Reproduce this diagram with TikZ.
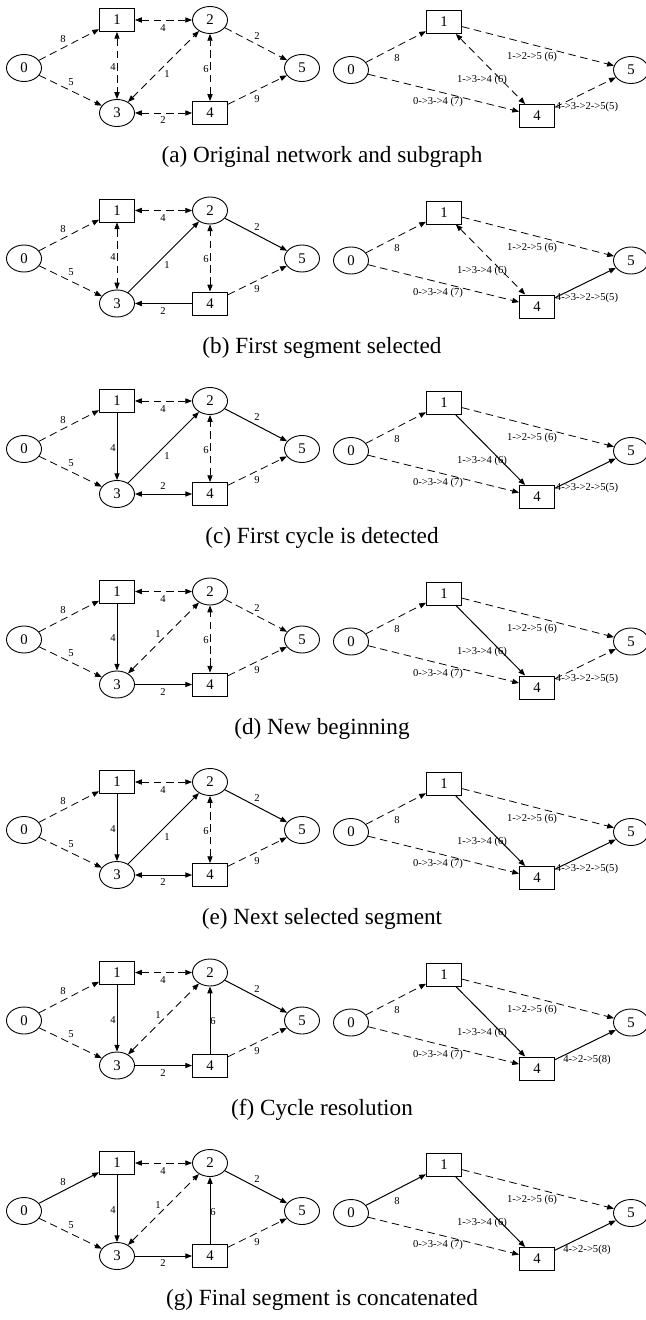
\documentclass[tikz,border=0pt]{standalone}
\usepackage{fontspec}
\setmainfont{Liberation Serif}
\usetikzlibrary{arrows.meta,shapes}

\tikzset{
  vtx/.style={draw,line width=.45pt,inner sep=0pt,minimum width=17.5pt,font=\fontsize{7.4}{8}\selectfont},
  vell/.style={vtx,ellipse,minimum height=13.5pt},
  vbox/.style={vtx,rectangle,minimum height=11.5pt},
  wt/.style={inner sep=0pt,font=\fontsize{5.3}{6}\selectfont},
  link/.style={line width=.4pt,>={Triangle[length=3.4pt,width=2.6pt]}},
  dfwd/.style={link,dash pattern=on 3.8pt off 2.3pt,->},
  dboth/.style={link,dash pattern=on 3.8pt off 2.3pt,<->},
  sfwd/.style={link,line width=.5pt,->},
  sback/.style={link,line width=.5pt,<-},
  sboth/.style={link,line width=.5pt,<->}
}

\begin{document}
\begin{tikzpicture}[x=.5pt,y=-.5pt]
\useasboundingbox (0,0) rectangle (645,1320);
\foreach \k/\cap/\ea/\eb/\ec/\ed/\ee/\ef/\rl/\onex/\oney/\twoy/\sixx in {
  0/(a) Original network and subgraph/dfwd/dboth/dboth/dboth/dfwd/dboth/4->3->2->5(5)/167/74/120/206,
  1/(b) First segment selected/dfwd/dboth/sfwd/dboth/sfwd/sback/4->3->2->5(5)/167/75/120/206,
  2/(c) First cycle is detected/dfwd/sfwd/sfwd/dboth/sfwd/sboth/4->3->2->5(5)/167/75/105/206,
  3/(d) New beginning/dfwd/sfwd/dboth/dboth/dfwd/sfwd/4->3->2->5(5)/158/62/120/206,
  4/(e) Next selected segment/dfwd/sfwd/sfwd/dboth/sfwd/sboth/4->3->2->5(5)/167/75/120/206,
  5/(f) Cycle resolution/dfwd/sfwd/dboth/sfwd/sfwd/sfwd/4->2->5(8)/158/62/120/213,
  6/(g) Final segment is concatenated/sfwd/sfwd/dboth/sfwd/sfwd/sfwd/4->2->5(8)/158/62/120/213}{
\begin{scope}[shift={(0,190.5*\k)}]
% network
\node[vell] (l0-\k) at (24,68) {0};
\node[vbox] (l1-\k) at (117,20) {1};
\node[vell] (l2-\k) at (210,20) {2};
\node[vell] (l3-\k) at (117,113) {3};
\node[vbox] (l4-\k) at (210,113) {4};
\node[vell] (l5-\k) at (302,68) {5};
\draw[\ea] (l0-\k) -- (l1-\k);
\draw[dfwd] (l0-\k) -- (l3-\k);
\draw[dboth] (l1-\k) -- (l2-\k);
\draw[\eb] (l1-\k) -- (l3-\k);
\draw[\ec] (l3-\k) -- (l2-\k);
\draw[\ed] (l4-\k) -- (l2-\k);
\draw[\ee] (l2-\k) -- (l5-\k);
\draw[\ef] (l3-\k) -- (l4-\k);
\draw[dfwd] (l4-\k) -- (l5-\k);
\node[wt] (w01-\k) at (63,39) {8};
\node[wt] (w03-\k) at (71,82) {5};
\node[wt] (w12-\k) at (163,28) {4};
\node[wt] (w13-\k) at (113,67) {4};
\node[wt] (w32-\k) at (\onex,\oney) {1};
\node[wt] (w42-\k) at (\sixx,69) {6};
\node[wt] (w25-\k) at (257,36) {2};
\node[wt] (w34-\k) at (163,\twoy) {2};
\node[wt] (w45-\k) at (257,99) {9};
% subgraph
\node[vell] (r0-\k) at (351,70) {0};
\node[vbox] (r1-\k) at (444,22) {1};
\node[vbox] (r4-\k) at (537,116) {4};
\node[vell] (r5-\k) at (631,70) {5};
\draw[\ea] (r0-\k) -- (r1-\k);
\draw[dfwd] (r1-\k) -- (r5-\k);
\draw[\eb] (r1-\k) -- (r4-\k);
\draw[dfwd] (r0-\k) -- (r4-\k);
\draw[\ee] (r4-\k) -- (r5-\k);
\node[wt] (v01-\k) at (397,58) {8};
\node[wt] (v15-\k) at (532,57) {1->2->5 (6)};
\node[wt] (v14-\k) at (482,80) {1->3->4 (6)};
\node[wt] (v04-\k) at (438,102) {0->3->4 (7)};
\node[wt] (v45-\k) at (587,107) {\rl};
\node[font=\fontsize{11.6}{14}\selectfont] (cap-\k) at (322,157) {\cap};
\end{scope}
}
\end{tikzpicture}
\end{document}
